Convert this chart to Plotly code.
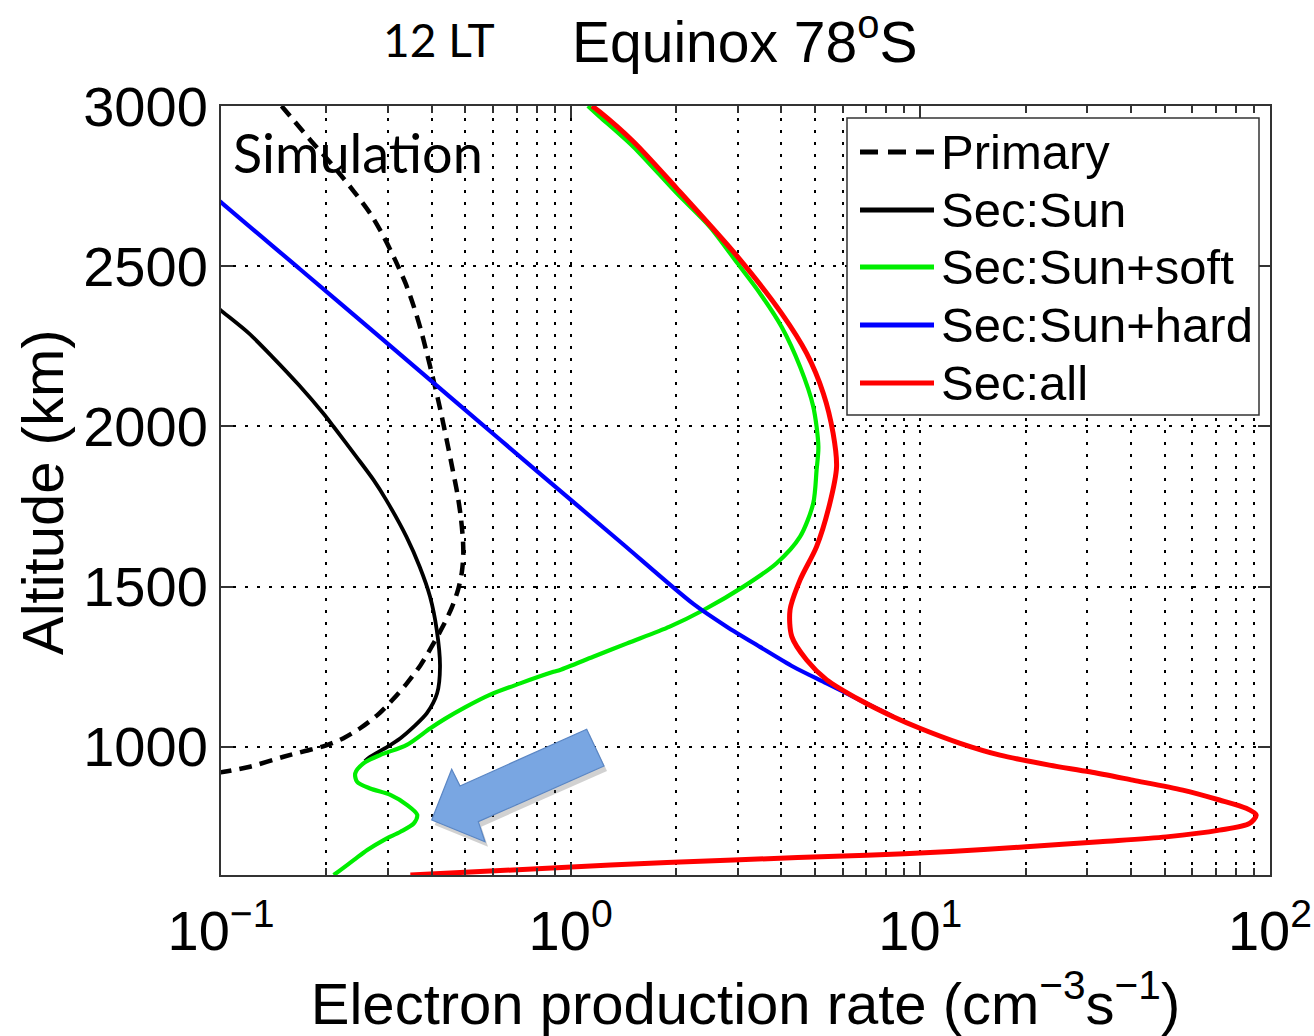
import plotly.graph_objects as go

# ---- profiles: altitude (km) and electron production rate (cm^-3 s^-1) ----
primary_alt = [3000, 2967, 2894, 2811, 2733, 2665, 2592, 2519, 2447, 2374, 2301, 2228,
               2155, 2082, 2010, 1937, 1864, 1791, 1718, 1645, 1596, 1542, 1489, 1437,
               1380, 1318, 1255, 1198, 1146, 1099, 1058, 1027, 1004, 987, 969, 938, 922, 918]
primary_val = [0.149, 0.158, 0.180, 0.210, 0.240, 0.267, 0.292, 0.315, 0.337, 0.356, 0.373, 0.388,
               0.403, 0.418, 0.432, 0.446, 0.460, 0.474, 0.485, 0.492, 0.493, 0.488, 0.476, 0.458,
               0.433, 0.403, 0.372, 0.340, 0.309, 0.280, 0.250, 0.224, 0.199, 0.174, 0.151, 0.121,
               0.102, 0.095]

sun_alt = [2383, 2363, 2291, 2218, 2129, 2041, 1999, 1905, 1833, 1770, 1656, 1562, 1469,
           1365, 1250, 1167, 1105, 1063, 1027, 1000, 969, 955]
sun_val = [0.095, 0.0997, 0.120, 0.140, 0.167, 0.196, 0.210, 0.244, 0.273, 0.297, 0.339, 0.370,
           0.396, 0.414, 0.423, 0.415, 0.388, 0.356, 0.326, 0.299, 0.267, 0.258]

soft_alt = [3000, 2967, 2873, 2728, 2623, 2509, 2415, 2311, 2186, 2062, 1937, 1864, 1760,
            1656, 1573, 1500, 1427, 1375, 1323, 1281, 1240, 1234, 1198, 1163, 1124, 1088,
            1058, 1006, 975, 949, 917, 891, 870, 850, 819, 788, 761, 735, 709, 678, 647, 616,
            600]
soft_val = [1.12, 1.21, 1.51, 2.01, 2.50, 3.00, 3.48, 4.01, 4.53, 4.94, 5.11, 5.05, 4.94,
            4.53, 3.88, 3.12, 2.40, 1.92, 1.45, 1.16, 0.933, 0.893, 0.717, 0.589, 0.500, 0.438,
            0.397, 0.340, 0.286, 0.256, 0.242, 0.245, 0.267, 0.305, 0.340, 0.364, 0.356, 0.326,
            0.292, 0.262, 0.240, 0.220, 0.210]

hard_alt = [2722, 2701, 2489, 2277, 2065, 1852, 1640, 1446, 1375, 1312, 1250, 1198, 1146, 1094]
hard_val = [0.095, 0.0997, 0.169, 0.286, 0.483, 0.818, 1.385, 2.243, 2.795, 3.478, 4.331,
            5.395, 6.716, 8.363]

all_alt = [3000, 2982, 2889, 2743, 2530, 2353, 2228, 2103, 1979, 1874, 1760, 1625, 1521,
           1427, 1344, 1271, 1209, 1146, 1094, 1058, 1011, 974, 943, 922, 896, 865, 834,
           808, 787, 761, 740, 719, 704, 688, 673, 662, 647, 631, 600]
all_val = [1.15, 1.21, 1.51, 2.01, 3.00, 4.01, 4.73, 5.28, 5.63, 5.76, 5.51, 5.05, 4.53,
           4.24, 4.29, 4.73, 5.40, 6.72, 8.36, 9.97, 13.0, 16.9, 23.4, 30.5, 40.5, 56.3, 71.7,
           85.5, 91.3, 87.4, 71.7, 50.5, 32.6, 20.1, 12.2, 7.02, 2.92, 1.30, 0.348]

series_names = ["Primary", "Sec:Sun", "Sec:Sun+soft", "Sec:Sun+hard", "Sec:all"]
series_colors = ["#000000", "#000000", "#00ee00", "#0000ff", "#ff0000"]
series_dash = ["13px,8px", "solid", "solid", "solid", "solid"]
series_width = [4.5, 3.8, 4.2, 4.2, 5]
series_data = [(primary_val, primary_alt), (sun_val, sun_alt), (soft_val, soft_alt),
               (hard_val, hard_alt), (all_val, all_alt)]

x_tick_vals = [0.1, 1, 10, 100]
x_tick_text = ["10<sup>\u22121</sup>", "10<sup>0</sup>", "10<sup>1</sup>", "10<sup>2</sup>"]
x_minor_vals = [m * d for d in (0.1, 1, 10) for m in range(2, 10)]
y_tick_vals = [1000, 1500, 2000, 2500, 3000]

W, H = 1314, 1036
L, R, T, B = 221, 1270, 106, 875  # plot area in pixels


def px(x):
    return (x - L) / (R - L)


def py(y):
    return (B - y) / (B - T)


FONT = "Liberation Sans, Arial, Helvetica, sans-serif"
CAL = "Lato, Open Sans, sans-serif"

fig = go.Figure()
for (xv, yv), name, col, dash, w in zip(series_data, series_names, series_colors,
                                        series_dash, series_width):
    fig.add_trace(go.Scatter(
        x=xv, y=yv, mode="lines", name=name, showlegend=False,
        line=dict(color=col, width=w, dash=dash, shape="spline", smoothing=0.8),
        cliponaxis=True,
    ))

grid_dash = "3px,9px"
axis_common = dict(
    showline=True, linecolor="#333333", linewidth=2, mirror="ticks",
    ticks="inside", tickcolor="#333333", tickwidth=1.5, ticklen=12,
    showgrid=True, gridcolor="#000000", gridwidth=1.6, griddash=grid_dash,
    zeroline=False, automargin=False,
    tickfont=dict(family=FONT, size=56, color="#000000"),
)

fig.update_xaxes(
    type="log", range=[-1, 2], tickmode="array", tickvals=x_tick_vals, ticktext=x_tick_text,
    ticklabelstandoff=6,
    minor=dict(tickmode="array", tickvals=x_minor_vals, ticks="inside", ticklen=7,
               tickcolor="#333333", tickwidth=1.5, showgrid=True, gridcolor="#000000",
               gridwidth=1.6, griddash=grid_dash),
    title=dict(text="Electron production rate (cm<sup>\u22123</sup>s<sup>\u22121</sup>)",
               font=dict(family=FONT, size=58, color="#000000"), standoff=18),
    **axis_common,
)
fig.update_yaxes(
    range=[600, 3000], tickmode="array", tickvals=y_tick_vals, ticklabelstandoff=0,
    **axis_common,
)

shapes = []
annotations = []

# legend box
shapes.append(dict(type="rect", xref="paper", yref="paper",
                   x0=px(847), x1=px(1259), y0=py(415), y1=py(118),
                   fillcolor="#ffffff", line=dict(color="#333333", width=1.5), layer="above"))
legend_rows = [152, 210, 267, 325, 383]
for name, col, row in zip(series_names, series_colors, legend_rows):
    dash = "18px,10px" if name == "Primary" else "solid"
    shapes.append(dict(type="line", xref="paper", yref="paper",
                       x0=px(860), x1=px(934), y0=py(row), y1=py(row),
                       line=dict(color=col, width=5, dash=dash), layer="above"))
    annotations.append(dict(text=name, xref="paper", yref="paper", x=px(939), y=py(row),
                            xanchor="left", yanchor="middle", showarrow=False,
                            font=dict(family=FONT, size=49, color="#000000")))

# block arrow pointing at the low-altitude soft-precipitation feature
arrow_pts = [(431.7, 820), (451.7, 769.3), (460, 786), (586.7, 729.3),
             (604, 766), (478.3, 821.7), (485, 841.7)]


def arrow_path(dx=0.0, dy=0.0):
    parts = []
    for i, (ax, ay) in enumerate(arrow_pts):
        parts.append(("M" if i == 0 else "L") + f"{px(ax + dx):.5f},{py(ay + dy):.5f}")
    return " ".join(parts) + " Z"


shapes.append(dict(type="path", xref="paper", yref="paper", path=arrow_path(3, 5),
                   fillcolor="rgba(90,90,90,0.28)", line=dict(width=0), layer="above"))
shapes.append(dict(type="path", xref="paper", yref="paper", path=arrow_path(),
                   fillcolor="#79a6e2", line=dict(color="#5a86c4", width=1.2), layer="above"))

annotations += [
    dict(text="Altitude (km)", xref="paper", yref="paper", x=px(42), y=py(492),
         xanchor="center", yanchor="middle", textangle=-90, showarrow=False,
         font=dict(family=FONT, size=58, color="#000000")),
    dict(text="12 LT", xref="paper", yref="paper", x=px(439), y=py(39),
         xanchor="center", yanchor="middle", showarrow=False,
         font=dict(family=CAL, size=46, color="#000000")),
    dict(text="Equinox 78<sup>o</sup>S", xref="paper", yref="paper", x=px(744), y=py(38),
         xanchor="center", yanchor="middle", showarrow=False,
         font=dict(family=FONT, size=57, color="#000000")),
    dict(text="Simulation", xref="paper", yref="paper", x=px(231), y=py(152),
         xanchor="left", yanchor="middle", showarrow=False,
         font=dict(family=CAL, size=54, color="#000000")),
]

fig.update_layout(
    width=W, height=H,
    margin=dict(l=L, r=W - R, t=T, b=H - B, pad=0),
    paper_bgcolor="#ffffff", plot_bgcolor="#ffffff",
    showlegend=False,
    shapes=shapes, annotations=annotations,
)

fig.write_html("out.html")
